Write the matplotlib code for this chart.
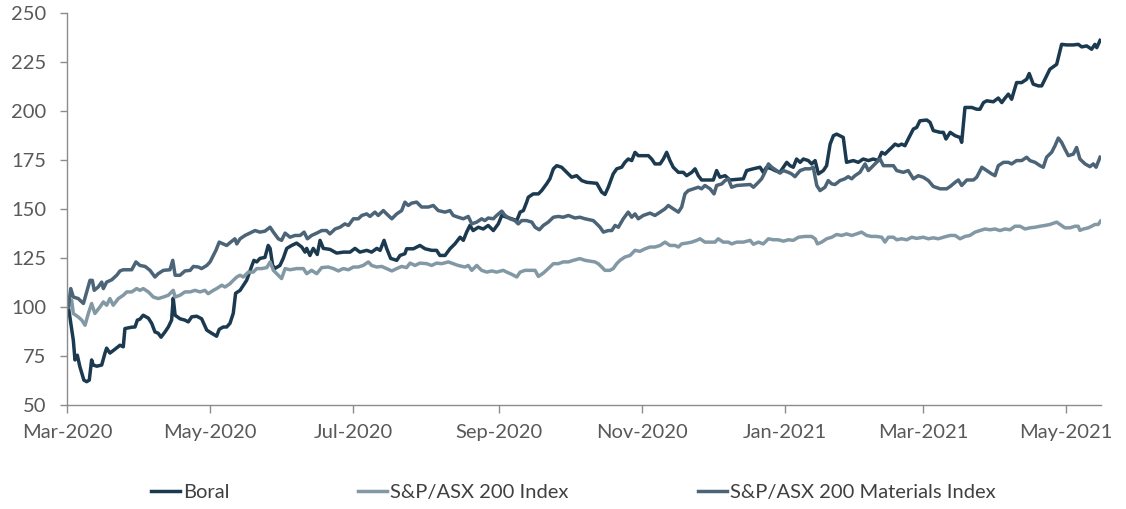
import matplotlib
matplotlib.use("Agg")
import matplotlib.pyplot as plt
import matplotlib.dates as mdates
import pandas as pd
import numpy as np

plt.rcParams['font.family'] = ['Lato', 'DejaVu Sans']

BASE = pd.Timestamp("2020-03-01")

# Day offsets (days after 1 Mar 2020) and index values
boral_days = [0.6, 2.7, 3.4, 4.4, 5.5, 7.2, 8.4, 9.5, 10.5, 11.2, 12.7, 14.8, 16.2, 16.9, 18.3, 20.5, 22.6, 24.0, 24.7, 27.6,
              29.0, 30.0, 31.1, 32.5, 34.7, 36.1, 37.5, 38.9, 40.1, 41.8, 43.2, 44.6, 45.3, 46.1, 48.2, 50.3, 51.7, 53.2, 55.3, 57.4,
              59.6, 61.7, 63.8, 64.9, 66.6, 68.1, 69.5, 70.9, 71.9, 73.8, 76.6, 78.8, 79.7, 80.9, 82.3, 84.4, 85.8, 86.6, 87.7, 88.7,
              90.8, 92.2, 93.7, 95.8, 97.9, 100.1, 101.5, 102.2, 103.6, 105.0, 106.7, 107.9, 109.3, 112.1, 115.0, 117.8, 120.7, 122.8, 124.9, 127.8,
              129.9, 132.1, 133.5, 135.2, 136.3, 138.0, 140.6, 142.0, 144.1, 144.8, 147.7, 150.5, 152.7, 155.5, 157.6, 159.0, 161.2, 163.3, 165.4, 167.6,
              169.0, 170.4, 171.8, 173.2, 175.4, 177.5, 179.6, 181.8, 183.9, 185.4, 187.5, 189.6, 191.8, 193.2, 194.6, 196.0, 196.7, 198.8, 201.0, 202.4,
              204.5, 205.9, 207.4, 208.8, 210.9, 213.1, 215.2, 217.3, 219.5, 221.6, 225.9, 228.0, 229.4, 230.8, 232.9, 234.4, 236.5, 237.9, 239.3, 240.8,
              242.2, 243.6, 247.9, 249.3, 250.7, 252.9, 254.3, 255.7, 257.1, 258.5, 260.7, 262.8, 264.2, 266.4, 267.8, 269.2, 270.6, 275.6, 277.0, 278.4,
              280.6, 282.7, 288.4, 289.8, 292.6, 295.5, 296.9, 298.3, 300.5, 301.9, 304.0, 306.9, 308.3, 309.7, 311.1, 312.6, 314.0, 316.1, 317.5, 319.0,
              320.4, 322.5, 323.9, 325.4, 326.8, 328.2, 331.0, 332.4, 335.3, 337.4, 339.5, 341.7, 343.8, 345.9, 347.4, 348.8, 350.2, 351.7, 353.1, 354.5,
              355.9, 357.3, 358.7, 360.9, 362.3, 363.7, 366.6, 368.0, 369.4, 372.3, 373.7, 374.8, 376.6, 378.7, 380.8, 381.5, 382.9, 385.8, 387.9, 389.3,
              390.8, 392.2, 395.0, 397.1, 398.6, 400.0, 401.4, 402.8, 404.9, 407.1, 409.2, 410.3, 412.0, 414.2, 415.6, 417.0, 419.1, 422.0, 422.7, 424.1,
              426.3, 429.1, 431.2, 432.7, 434.8, 436.9, 438.3, 439.1, 440.5]
boral_vals = [100, 83, 73, 75.4, 69.5, 62.7, 61.9, 62.7, 73, 70.4, 69.8, 70.4, 76.5, 79, 76.5, 78.5, 80.5, 79.7, 89, 89.7,
              89.8, 93.3, 93.8, 95.8, 94.3, 91.7, 87.3, 86.6, 84.6, 87.3, 89.8, 93.3, 104.5, 95.8, 94, 93.3, 92.4, 95, 95.3, 94,
              88.2, 86.6, 85.1, 88.6, 89.8, 89.8, 91.7, 96.8, 107, 108.5, 113.6, 121, 123.8, 123, 124.8, 125.3, 131.4, 129.9, 121.2, 119.7,
              121.2, 124.8, 129.9, 131.4, 132.6, 130.6, 128, 129.9, 126.3, 129.9, 126.8, 134, 129.9, 129.4, 127.5, 128, 128, 129.9, 128, 128.9,
              128, 129.9, 128.9, 134, 129.9, 124.8, 123.8, 126.3, 127.2, 129.7, 129.7, 131.4, 129.7, 128.9, 128.9, 126.3, 126.3, 129.7, 132.2, 135.6,
              134, 138.2, 141.6, 139, 140.7, 139.8, 141.6, 139, 142.4, 146.7, 145.8, 145, 144.1, 148.4, 149.2, 153.5, 156, 157.7, 157.7, 159.4,
              162.8, 165.4, 170.5, 172.1, 171.3, 168.7, 166.2, 167, 164.5, 163.6, 163.1, 158.6, 157.4, 161.1, 167.9, 170.5, 171.3, 173.8, 175.5, 174.7,
              178.9, 177.2, 177.2, 175.5, 173, 173, 175.5, 178.9, 174.7, 171.3, 168.7, 168.7, 167, 168.7, 170.5, 167, 164.8, 164.8, 169.6, 166.2,
              167, 164.8, 165.4, 169.6, 170.5, 171.3, 168.7, 171.3, 170.5, 169.6, 168.7, 173.8, 172.1, 171.3, 175.5, 173.8, 175.5, 174.7, 173, 174.7,
              167.9, 169.6, 172.1, 183.1, 187.4, 188.2, 186.5, 173.8, 174.7, 173.8, 175.5, 174.7, 175.5, 174.7, 178.9, 178, 179.7, 181.4, 183.1, 182.3,
              183.1, 182.3, 185.7, 190.8, 191.6, 195, 195.4, 194.2, 190, 189.1, 189.1, 185.7, 189.1, 187.4, 186.5, 184, 201.8, 201.8, 200.9, 200.9,
              204.3, 205.2, 204.7, 206.6, 204.3, 206.6, 208.6, 206, 214.5, 214.5, 216.2, 219.1, 213.7, 212.8, 212.8, 216.2, 221.3, 223.8, 227.2, 234,
              233.7, 233.7, 234, 232.7, 233.2, 231.5, 234, 232.3, 236]

asx_days = [0.6, 2.0, 2.7, 4.8, 6.3, 7.7, 9.1, 10.5, 11.9, 14.1, 15.5, 16.9, 18.3, 19.7, 21.9, 24.0, 25.5, 27.6, 29.7, 31.1,
            32.5, 34.7, 36.8, 38.9, 41.1, 43.2, 45.3, 46.1, 48.2, 50.3, 52.5, 54.6, 56.7, 58.8, 60.2, 62.4, 63.8, 66.0, 67.4, 69.5,
            70.9, 72.4, 73.8, 75.2, 77.3, 79.4, 80.9, 83.0, 85.2, 86.6, 88.0, 90.1, 91.5, 93.0, 95.1, 97.9, 100.8, 102.2, 104.3, 106.5,
            108.6, 111.4, 113.6, 115.7, 117.8, 120.0, 122.1, 124.2, 126.3, 128.5, 129.9, 132.1, 134.2, 136.3, 138.5, 140.6, 142.7, 144.8, 146.3, 148.4,
            150.5, 153.4, 155.5, 157.6, 159.8, 162.6, 164.7, 166.8, 169.7, 171.1, 172.6, 174.7, 176.8, 179.0, 181.1, 183.2, 186.0, 187.5, 189.6, 191.8,
            193.2, 195.3, 199.6, 201.0, 203.1, 205.2, 207.4, 209.5, 211.6, 213.8, 215.9, 218.7, 220.9, 223.0, 225.1, 226.5, 228.0, 229.4, 231.5, 232.9,
            234.4, 235.8, 237.9, 240.1, 242.2, 244.3, 246.5, 248.6, 250.7, 252.9, 255.0, 257.1, 259.3, 260.7, 262.1, 264.2, 266.4, 268.5, 269.9, 272.0,
            276.3, 277.7, 279.8, 282.0, 283.4, 285.6, 288.4, 291.3, 292.7, 294.8, 296.9, 299.1, 301.2, 303.3, 305.5, 307.6, 309.7, 311.9, 314.7, 317.5,
            319.0, 320.0, 321.8, 323.9, 326.1, 328.2, 330.3, 332.4, 334.6, 336.7, 338.8, 341.0, 343.1, 345.2, 347.4, 348.8, 350.2, 352.4, 353.8, 355.9,
            358.1, 360.2, 362.3, 365.1, 367.3, 369.4, 371.5, 373.7, 376.6, 378.7, 380.8, 382.9, 385.0, 387.2, 389.3, 391.4, 393.6, 395.7, 397.8, 400.0,
            402.1, 404.2, 406.4, 408.5, 410.6, 412.8, 414.9, 417.0, 419.1, 422.0, 424.1, 425.5, 427.7, 429.8, 431.2, 431.9, 433.4, 435.5, 436.9, 438.3,
            439.7, 440.7]
asx_vals = [100, 103.4, 96.7, 94.9, 93.3, 90.7, 96.7, 101.8, 96.7, 100.1, 102.6, 100.9, 104.3, 100.9, 104.3, 106, 107.7, 107.7, 109.4, 108.5,
            109.4, 107.7, 105.1, 104.3, 105.1, 106, 108.5, 105.1, 106, 107.7, 107.7, 108.5, 107.7, 108.5, 106.8, 108.5, 109.4, 111.1, 110.2, 111.9,
            113.6, 115.3, 116.2, 115.3, 117.8, 117.8, 119.6, 119.6, 120.1, 123, 118.7, 116.2, 114.5, 119.6, 119, 119.6, 119.6, 117, 118.7, 117,
            120.1, 120.4, 119.6, 118.4, 119.6, 119, 120.4, 120.4, 121.2, 123, 121.2, 120.4, 120.7, 119.6, 118.4, 119.6, 120.7, 120.1, 122.4, 121.2,
            122.4, 122.1, 121.2, 122.4, 122.1, 123, 122.1, 121.2, 120.4, 121.2, 118.7, 121.2, 118.7, 117.8, 118.4, 117.8, 118.7, 117.8, 116.7, 115.3,
            117.8, 118.7, 118.7, 115.6, 117.3, 119.6, 122.1, 122.1, 123, 123, 123.8, 124.7, 123.8, 123.4, 123, 122.1, 120.4, 118.7, 118.7, 119.6,
            122.1, 123.8, 125.5, 126.3, 128.9, 128.4, 129.7, 130.6, 130.6, 131.4, 133.1, 131.4, 131.4, 130.6, 132.2, 132.6, 133.1, 134, 134.8, 133.1,
            133.1, 134.8, 133.1, 133.1, 132.2, 133.1, 133.1, 134, 132, 133.1, 132.2, 134.8, 134.3, 134.3, 133.6, 134.3, 134, 135.6, 136, 136,
            134.8, 132.2, 133.1, 134.8, 135.6, 137, 136.5, 137.3, 136.5, 137.3, 138.2, 136.5, 136, 136, 135.6, 133.1, 135.6, 135.6, 134.3, 134.8,
            134.3, 135.6, 135, 135.6, 134.8, 135.3, 134.8, 135.6, 136.5, 136.5, 134.8, 136, 136.5, 138.2, 139, 139.8, 139.4, 139.8, 139, 139.8,
            139.4, 141.2, 141.2, 139.8, 140.4, 140.7, 141.2, 141.6, 142.1, 143.3, 141.6, 140.4, 140.4, 141.2, 141.2, 139.1, 139.8, 140.4, 141.2, 142.1,
            142.1, 143.8]

mat_days = [0.6, 1.6, 2.7, 4.8, 7.0, 9.8, 10.8, 11.6, 13.3, 14.8, 15.5, 16.9, 19.1, 21.2, 22.6, 24.0, 27.6, 29.4, 31.1, 33.3,
            35.4, 37.5, 38.9, 41.1, 43.9, 45.1, 46.1, 48.2, 50.3, 52.5, 53.9, 56.0, 57.4, 59.6, 61.0, 62.4, 63.5, 64.9, 66.6, 68.1,
            69.8, 71.6, 72.4, 73.8, 75.9, 78.0, 80.2, 82.3, 84.4, 86.6, 88.0, 90.1, 91.5, 93.0, 95.1, 97.2, 99.4, 101.1, 102.5, 104.3,
            106.5, 108.6, 110.7, 112.1, 114.3, 116.4, 118.5, 120.0, 122.1, 124.2, 125.7, 127.8, 129.2, 131.3, 132.7, 134.9, 136.3, 138.5, 140.6, 142.7,
            144.1, 145.5, 147.0, 149.1, 151.2, 154.1, 156.2, 158.3, 161.2, 163.3, 164.7, 166.8, 169.0, 171.1, 172.6, 174.7, 176.8, 178.2, 179.6, 181.8,
            183.2, 185.4, 186.8, 188.9, 191.0, 192.4, 193.9, 196.0, 198.2, 199.6, 201.4, 203.1, 205.2, 207.4, 209.5, 211.6, 213.8, 216.6, 218.7, 220.9,
            224.4, 225.9, 227.3, 228.7, 230.8, 232.3, 233.7, 235.1, 237.2, 239.3, 240.8, 242.2, 243.6, 245.7, 248.6, 250.7, 252.9, 255.0, 256.4, 258.5,
            260.7, 262.1, 263.5, 264.9, 267.1, 269.2, 270.6, 272.0, 274.2, 275.9, 277.0, 279.2, 280.6, 282.0, 283.4, 285.6, 291.3, 292.7, 294.8, 296.2,
            297.6, 299.1, 300.5, 302.6, 304.0, 305.5, 307.6, 309.0, 310.4, 312.6, 314.7, 316.8, 318.2, 319.7, 321.1, 323.2, 324.6, 326.1, 327.5, 329.6,
            331.7, 333.1, 334.6, 336.0, 338.1, 340.3, 341.7, 343.1, 345.2, 346.7, 348.1, 352.4, 353.8, 356.6, 358.7, 360.9, 363.0, 365.1, 367.3, 369.4,
            372.3, 375.1, 376.6, 378.7, 380.1, 381.5, 383.7, 386.5, 387.9, 390.1, 392.2, 394.3, 395.7, 397.1, 399.3, 401.4, 402.8, 404.9, 407.1, 409.2,
            410.6, 412.8, 414.9, 416.3, 417.7, 419.9, 421.3, 422.7, 424.1, 425.5, 427.0, 429.1, 430.5, 431.9, 434.1, 436.2, 437.6, 438.8, 440.5]
mat_vals = [100, 109.4, 105.1, 104.3, 101.8, 113.6, 113.6, 108.5, 110.2, 112.7, 109.4, 112.7, 113.9, 116.2, 118.4, 119, 119, 123, 121.2, 120.7,
            118.7, 115.3, 117, 118.7, 119, 123.8, 116.2, 116.2, 118.4, 118.7, 120.7, 120.4, 119.6, 121.2, 123, 126.3, 128.9, 133.1, 132.2, 131.4,
            133.1, 134.8, 132.2, 134.8, 136.5, 137.7, 139, 138.2, 138.7, 140.7, 138.2, 134.8, 134, 137.7, 135.6, 136.5, 136.5, 138.2, 134.8, 136.5,
            137.7, 139, 139, 137.3, 139.8, 140.7, 142.4, 141.6, 145, 145, 146.7, 147.5, 146.2, 148.4, 146.7, 149.2, 147.5, 145, 147.5, 149.2,
            153.5, 151.8, 153, 153.5, 151, 151, 151.8, 149.2, 148.4, 149.2, 146.7, 145.8, 145, 146.2, 142.4, 143.3, 145, 144.1, 145.4, 145,
            146.7, 148.9, 146.7, 145, 144.1, 142.4, 144.1, 144.1, 143.3, 140.7, 139.4, 141.6, 143.3, 145.8, 146.2, 145.8, 146.7, 145.4, 145.8, 145,
            144.1, 142.4, 140.7, 138.2, 139, 139, 141.6, 140.7, 145, 148.4, 145.8, 147.5, 145, 146.7, 147.9, 146.7, 148.4, 150.1, 151.8, 150.1,
            148.4, 151, 157.7, 159.4, 160.3, 161.1, 160.3, 162, 160.3, 157.7, 162, 162.8, 164.5, 165.4, 161.1, 162, 162.5, 161.1, 163.6, 165.4,
            168.7, 173, 171.3, 169.6, 168.3, 169.6, 168.7, 167.9, 166.5, 169.6, 170.5, 170.5, 171.3, 162, 159.4, 161.1, 164.5, 162.8, 162.5, 164.5,
            165.4, 166.5, 165.4, 167, 168.7, 173, 169.6, 171.3, 173.8, 175.5, 172.1, 172.1, 169.6, 168.7, 169.6, 165.4, 167, 166.2, 164.5, 161.5,
            160.3, 160.3, 161.5, 163.6, 164.8, 162, 164.8, 164.8, 166.2, 171.3, 169.6, 167.9, 167, 172.1, 173.8, 173.8, 173, 174.7, 174.7, 176.4,
            174.7, 173.8, 172.1, 171.3, 176.4, 179, 182.3, 186.2, 184, 180.6, 177.2, 178, 181.4, 175.5, 173, 171.6, 173, 171.3, 176.4]

series = [
    ("Boral", boral_days, boral_vals, "#1b3a50"),
    ("S&P/ASX 200 Index", asx_days, asx_vals, "#8299a5"),
    ("S&P/ASX 200 Materials Index", mat_days, mat_vals, "#4b6477"),
]

y_ticks = [50, 75, 100, 125, 150, 175, 200, 225, 250]
x_tick_dates = ["2020-03-01", "2020-05-01", "2020-07-01", "2020-09-01", "2020-11-01",
                "2021-01-01", "2021-03-01", "2021-05-01"]

fig = plt.figure(figsize=(11.26, 5.09), dpi=100)
ax = fig.add_axes([0.0595, 0.2043, 0.9185, 0.7702])

handles = []
for name, days, vals, col in series:
    dates = BASE + pd.to_timedelta(np.array(days), unit="D")
    h, = ax.plot(dates, vals, color=col, lw=2.5, label=name, solid_joinstyle="round")
    handles.append(h)

ax.set_ylim(50, 250)
ax.set_yticks(y_ticks)
ax.set_xlim(BASE, BASE + pd.Timedelta(days=441))
ax.set_xticks(pd.to_datetime(x_tick_dates))
ax.xaxis.set_major_formatter(mdates.DateFormatter("%b-%Y"))

for s in ["top", "right"]:
    ax.spines[s].set_visible(False)
for s in ["left", "bottom"]:
    ax.spines[s].set_color("#8c8c8c")
    ax.spines[s].set_linewidth(1.0)

ax.tick_params(axis="y", direction="out", length=5, width=1, color="#8c8c8c",
               labelsize=14.5, labelcolor="#595959", pad=10)
ax.tick_params(axis="x", direction="out", length=5.5, width=1, color="#8c8c8c",
               labelsize=14.5, labelcolor="#595959", pad=8)

fig.legend(handles=handles, loc="center", bbox_to_anchor=(0.509, 0.033), ncol=3,
           frameon=False, fontsize=14.5, handlelength=1.45, handletextpad=0.15,
           columnspacing=6.4, labelcolor="#404040")

fig.savefig("out.png", dpi=100)
